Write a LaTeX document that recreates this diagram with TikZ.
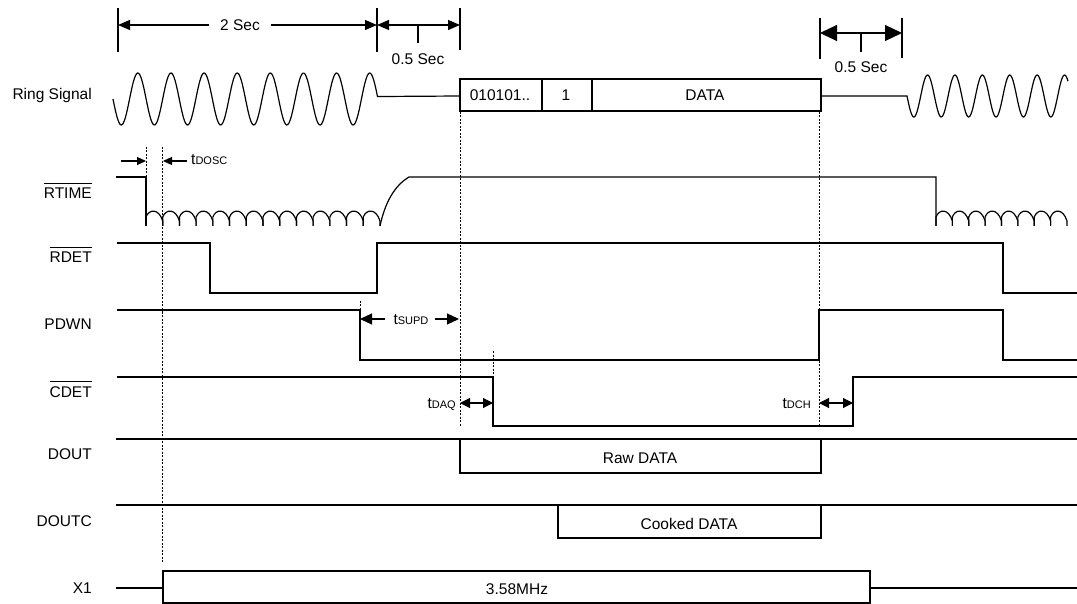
\documentclass[tikz,border=0pt]{standalone}
\usepackage{fontspec}
\setmainfont{Liberation Sans}
\usetikzlibrary{arrows.meta}
\newcommand\ovl[1]{\vbox{\hrule height 1pt\kern 4.5pt\hbox{#1}}}
\newcommand\subt[1]{{\fontsize{11}{12}\selectfont #1}}
\begin{document}
\begin{tikzpicture}[x=1pt,y=-1pt,
  sig/.style={line width=1.2pt, line join=miter},
  dsh/.style={line width=0.8pt, dash pattern=on 2pt off 1.5pt},
  txt/.style={inner sep=0pt, anchor=base, font=\fontsize{15.5}{18}\selectfont},
  lab/.style={txt, anchor=base east},
  dim/.style={line width=1.1pt},
  tipA/.style={{Triangle[length=12pt,width=10pt]}-{Triangle[length=12pt,width=10pt]}},
  tipB/.style={{Triangle[length=17pt,width=16pt]}-{Triangle[length=17pt,width=16pt]}},
  tipC/.style={-{Triangle[length=9pt,width=8pt]}},
  tipD/.style={-{Triangle[length=12pt,width=11pt]}},
  tipE/.style={{Triangle[length=10pt,width=10pt]}-{Triangle[length=10pt,width=10pt]}}]
\useasboundingbox (0,0) rectangle (1077,604);

% ---------- labels ----------
\node[lab] (lring) at (92,100) {Ring Signal};
\node[lab] (lrtime) at (92,199) {\ovl{RTIME}};
\node[lab] (lrdet) at (92,263) {\ovl{RDET}};
\node[lab] (lpdwn) at (92,330) {PDWN};
\node[lab] (lcdet) at (92,397) {\ovl{CDET}};
\node[lab] (ldout) at (92,459) {DOUT};
\node[lab] (ldoutc) at (92,526) {DOUTC};
\node[lab] (lx1) at (92,593) {X1};

% ---------- top dimensions ----------
\draw[dim] (118,8) -- (118,52);
\draw[dim] (377,8) -- (377,52);
\draw[dim] (460,8) -- (460,50);
\draw[dim,tipA] (118,25) -- (377,25);
\node[txt, anchor=center, fill=white, inner xsep=11pt, inner ysep=3pt] (t2s) at (240,25) {2 Sec};
\draw[dim,tipA] (377,25) -- (460,25);
\draw[dim] (418,25) -- (418,43);
\node[txt] (t05a) at (418,64.5) {0.5 Sec};

\draw[dim] (820,18) -- (820,59);
\draw[dim] (902,18) -- (902,58);
\draw[dim,tipB] (820,33) -- (902,33);
\draw[dim] (861,33) -- (861,52);
\node[txt] (t05b) at (861,72.5) {0.5 Sec};

% ---------- ring signal ----------
\draw[sig] plot[domain=113:377.5,samples=260,smooth] (\x,{99+26*sin(10.8679*(\x-113))}) -- (460,96);
\draw[sig] (460,79) rectangle (821,111);
\draw[sig] (542,79) -- (542,111);
\draw[sig] (592,79) -- (592,111);
\node[txt] (d1) at (500,101) {010101..};
\node[txt] (d2) at (566,101) {1};
\node[txt] (d3) at (705,101) {DATA};
\draw[sig] (821,96) -- (907,96) -- plot[domain=907:1068,samples=200,smooth] (\x,{96+21*sin(13.1387*(\x-907))});

% ---------- dashed guides ----------
\draw[dsh] (146,147) -- (146,225);
\draw[dsh] (162,147) -- (162,563);
\draw[dsh] (460,112) -- (460,427);
\draw[dsh] (819,112) -- (819,425);
\draw[dsh] (360,301) -- (360,310);
\draw[dsh] (493,351) -- (493,377);

% ---------- tDOSC ----------
\draw[dim,tipC] (121,161) -- (146,161);
\draw[dim,tipC] (187,161) -- (163,161);
\node[txt, anchor=base west] (tdosc) at (191,165) {t\subt{DOSC}};

% ---------- RTIME ----------
\draw[sig] (116,177) -- (146,177) -- (146,226);
\foreach \k in {0,...,13} {
  \pgfmathsetmacro\xa{146+\k*16.714}
  \pgfmathsetmacro\xb{\xa+16.714}
  \draw[sig] (\xa,226) -- (\xa,217) .. controls ({\xa+3},209) and ({\xb-4},208) .. (\xb,221) -- (\xb,226);
}
\draw[sig] (380,226) .. controls (385,203) and (394,186) .. (409,177) -- (936,177) -- (936,226);
\foreach \k in {0,...,7} {
  \pgfmathsetmacro\xa{936+\k*16.375}
  \pgfmathsetmacro\xb{\xa+16.375}
  \draw[sig] (\xa,226) -- (\xa,217) .. controls ({\xa+3},209) and ({\xb-4},208) .. (\xb,221) -- (\xb,226);
}

% ---------- RDET ----------
\draw[sig] (117,243) -- (210,243) -- (210,293) -- (377,293) -- (377,243) -- (1003,243) -- (1003,293) -- (1077,293);

% ---------- PDWN ----------
\draw[sig] (117,310) -- (360,310) -- (360,360) -- (819,360) -- (819,310) -- (1003,310) -- (1003,360) -- (1077,360);
\draw[dim,tipD] (385,319) -- (360,319);
\draw[dim,tipD] (435,319) -- (459,319);
\node[txt] (tsupd) at (411,324) {t\subt{SUPD}};

% ---------- CDET ----------
\draw[sig] (117,377) -- (493,377) -- (493,426) -- (853,426) -- (853,377) -- (1077,377);
\draw[dim,tipE] (460,403) -- (493,403);
\node[txt, anchor=base east] (tdaq) at (456,408) {t\subt{DAQ}};
\draw[dim,tipE] (819,403) -- (853,403);
\node[txt, anchor=base east] (tdch) at (811,408) {t\subt{DCH}};

% ---------- DOUT ----------
\draw[sig] (116,439) -- (460,439);
\draw[sig] (460,439) rectangle (821,473);
\draw[sig] (821,439) -- (1077,439);
\node[txt] (raw) at (640,463) {Raw DATA};

% ---------- DOUTC ----------
\draw[sig] (116,505) -- (558,505);
\draw[sig] (558,505) rectangle (821,538);
\draw[sig] (821,505) -- (1077,505);
\node[txt] (cooked) at (689,529) {Cooked DATA};

% ---------- X1 ----------
\draw[sig] (116,588) -- (163,588);
\draw[sig] (163,571) rectangle (870,603);
\draw[sig] (870,588) -- (1077,588);
\node[txt] (mhz) at (517,594) {3.58MHz};
\end{tikzpicture}
\end{document}
